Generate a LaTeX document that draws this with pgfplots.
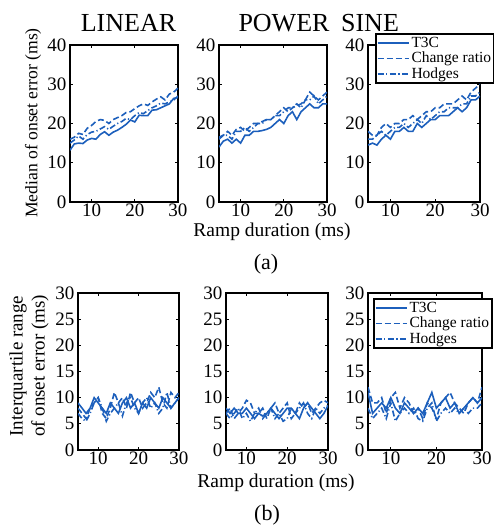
\documentclass[border=0pt]{standalone}
\usepackage{fontspec}
\setmainfont{Liberation Serif}
\usepackage{pgfplots}
\pgfplotsset{compat=1.18}
\usepackage{pgfplotstable}
\definecolor{lb}{RGB}{28,95,188}

\pgfplotstableread{
x a b c
5 13.2 16.0 15.0
6 14.8 16.5 15.8
7 15.0 17.5 16.8
8 14.9 17.2 16.0
9 15.8 18.8 17.2
10 16.2 19.5 17.8
11 16.0 20.5 18.0
12 17.2 21.0 18.6
13 17.9 20.8 19.2
14 17.0 20.0 18.5
15 17.8 21.0 19.3
16 18.3 21.5 20.0
17 19.0 22.0 20.5
18 19.8 22.8 21.3
19 20.9 23.0 21.0
20 20.4 23.8 22.0
21 22.1 24.5 22.8
22 22.0 25.0 22.5
23 22.0 24.6 23.3
24 23.4 25.5 24.0
25 23.5 26.2 24.5
26 24.0 26.8 25.2
27 24.5 26.0 25.0
28 25.0 27.5 25.5
29 26.4 28.0 26.0
30 26.6 29.0 27.0
}\linmed
\pgfplotstableread{
x a b c
5 14.0 16.5 16.0
6 15.5 17.0 17.0
7 16.0 18.0 17.0
8 15.0 17.0 16.0
9 16.0 18.5 18.0
10 15.0 19.0 18.0
11 17.0 18.0 19.0
12 17.0 19.0 18.0
13 18.0 20.0 19.0
14 18.0 20.0 20.0
15 18.2 20.5 20.0
16 18.5 21.0 21.0
17 19.0 21.0 21.0
18 20.0 22.0 22.0
19 21.0 23.0 22.0
20 20.0 24.0 23.0
21 22.0 23.0 24.0
22 23.0 24.0 24.0
23 21.0 24.5 25.0
24 23.0 25.0 24.0
25 24.0 26.0 26.0
26 25.0 28.0 26.0
27 24.0 27.0 27.0
28 24.0 26.0 25.0
29 25.0 27.0 26.0
30 25.0 28.0 27.0
}\powmed
\pgfplotstableread{
x a b c
5 14.5 18.0 16.0
6 15.0 17.0 16.0
7 14.5 17.0 17.0
8 16.0 19.0 18.0
9 17.0 20.0 17.0
10 16.0 19.0 18.0
11 18.0 20.0 19.0
12 18.0 20.0 19.0
13 19.0 21.0 20.0
14 18.0 21.0 19.0
15 18.0 22.0 20.0
16 20.0 21.0 21.0
17 19.0 22.0 20.0
18 20.0 23.0 22.0
19 21.0 23.0 21.0
20 21.0 24.0 22.0
21 22.0 24.0 23.0
22 22.0 25.0 23.0
23 22.0 25.0 24.0
24 23.0 25.0 24.0
25 24.0 26.0 24.0
26 23.0 27.0 25.0
27 24.0 26.0 25.0
28 26.0 28.0 27.0
29 26.0 29.0 27.0
30 27.0 30.0 28.0
}\sinmed
\pgfplotstableread{
x a b c
5 9 8 7
6 8 7 6
7 7 6 5.5
8 8 8 7
9 10 9 9
10 9 10 10
11 8 7 8
12 7 6 5.5
13 9 8 7
14 8 11 8
15 7 9 9
16 9 10 6.5
17 10 8 9
18 8 11 10
19 9 9 8
20 7 10 7
21 9 8 9
22 8 9 10
23 10 11 8
24 9 10 9
25 8 12 7
26 10 9 8
27 9 8 11
28 8 11 8
29 9 10 9
30 10 11 10
}\liniqr
\pgfplotstableread{
x a b c
5 8 7 7
6 7 8 6
7 8 6 7
8 7 7 8
9 7 8 6
10 8 9.5 7
11 7 9 5.5
12 6 7 7
13 7 7 8
14 6.5 8 6
15 7 6 7
16 8 8 8
17 7 9 6
18 6 7 7
19 7 8 5.5
20 8 9 6
21 8 6 8
22 7 7 7
23 6 9 8
24 8 8 9
25 9 9 7
26 8 7 6
27 7 8 8
28 6 9 7
29 7 9.5 8
30 8.5 9 8.5
}\powiqr
\pgfplotstableread{
x a b c
5 11 12 8
6 7 9 6
7 8 9 7
8 9 10 8
9 8 7 6
10 10 10 9
11 8 11 5.5
12 7 8 7
13 9 10 8
14 8 9 7
15 7 7 8
16 8 8 6
17 7 6 5.5
18 9 9 8
19 11 8 9
20 8 6 5.5
21 9 9 7
22 10 10 8
23 8 11 7
24 9 9 8
25 7 8 7
26 8 7 8
27 9 9 7
28 10 10 8
29 9 9 8
30 10 12 9
}\siniqr

\pgfplotsset{
 s1/.style={lb, line width=1.6pt, solid},
 s2/.style={lb, line width=1.6pt, dash pattern=on 6pt off 3pt},
 s3/.style={lb, line width=1.6pt, dash pattern=on 6pt off 2.5pt on 1.2pt off 2.5pt},
 panel/.style={
  scale only axis, height=157pt, xmin=5, xmax=30, xtick={10,20,30},
  axis line style={line width=2pt, black},
  tick style={black, line width=0.7pt}, major tick length=3pt, tick align=inside,
  /pgf/number format/assume math mode=true,
  ticklabel style={font=\fontsize{19}{22}\selectfont},
  xticklabel style={text depth=0pt, inner sep=1.5pt},
  legend image code/.code={\draw[##1] (0pt,0pt) -- (31pt,0pt);},
  legend cell align=left,
  legend style={draw=black, line width=1.8pt, font=\fontsize{15.5}{16}\selectfont,
    inner sep=1pt, row sep=-0.5pt, nodes={inner sep=2pt}},
 },
 top/.style={panel, ymin=0, ymax=40, ytick={0,10,20,30,40}},
 bot/.style={panel, ymin=0, ymax=30, ytick={0,5,10,15,20,25,30}},
}

\begin{document}
\begin{tikzpicture}
\useasboundingbox (0,0) rectangle (493pt,-527pt);

\begin{axis}[top, width=108pt, at={(70pt,-45pt)}, anchor=north west]
\addplot[s1] table[x=x,y=a]{\linmed};
\addplot[s2] table[x=x,y=b]{\linmed};
\addplot[s3] table[x=x,y=c]{\linmed};
\end{axis}
\begin{axis}[top, width=108pt, at={(219pt,-45pt)}, anchor=north west]
\addplot[s1] table[x=x,y=a]{\powmed};
\addplot[s2] table[x=x,y=b]{\powmed};
\addplot[s3] table[x=x,y=c]{\powmed};
\end{axis}
\begin{axis}[top, width=112pt, at={(368pt,-45pt)}, anchor=north west,
  legend style={at={(axis description cs:0.0625,1.076)}, anchor=north west}]
\addplot[s1] table[x=x,y=a]{\sinmed};
\addplot[s2] table[x=x,y=b]{\sinmed};
\addplot[s3] table[x=x,y=c]{\sinmed};
\legend{T3C, Change ratio, Hodges}
\end{axis}

\begin{axis}[bot, width=101pt, at={(78pt,-293pt)}, anchor=north west]
\addplot[s1] table[x=x,y=a]{\liniqr};
\addplot[s2] table[x=x,y=b]{\liniqr};
\addplot[s3] table[x=x,y=c]{\liniqr};
\end{axis}
\begin{axis}[bot, width=102pt, at={(226pt,-293pt)}, anchor=north west]
\addplot[s1] table[x=x,y=a]{\powiqr};
\addplot[s2] table[x=x,y=b]{\powiqr};
\addplot[s3] table[x=x,y=c]{\powiqr};
\end{axis}
\begin{axis}[bot, width=114pt, at={(368pt,-293pt)}, anchor=north west,
  legend style={at={(axis description cs:0.044,0.968)}, anchor=north west}]
\addplot[s1] table[x=x,y=a]{\siniqr};
\addplot[s2] table[x=x,y=b]{\siniqr};
\addplot[s3] table[x=x,y=c]{\siniqr};
\legend{T3C, Change ratio, Hodges}
\end{axis}

\node[anchor=base, font=\fontsize{26}{28}\selectfont] at (128.5pt,-32pt) {LINEAR};
\node[anchor=base, font=\fontsize{26}{28}\selectfont] at (284pt,-32pt) {POWER};
\node[anchor=base, font=\fontsize{26}{28}\selectfont] at (370pt,-32pt) {SINE};

\node[rotate=90, font=\fontsize{17.6}{20}\selectfont] at (33pt,-123pt) {Median of onset error (ms)};
\node[rotate=90, align=center, font=\fontsize{19}{22}\selectfont] at (29pt,-366pt) {Interquartile range\\of onset error (ms)};

\node[anchor=base, inner sep=0pt, font=\fontsize{19.5}{22}\selectfont] at (272pt,-236pt) {Ramp duration (ms)};
\node[anchor=base, inner sep=0pt, font=\fontsize{19.5}{22}\selectfont] at (276pt,-487pt) {Ramp duration (ms)};

\node[font=\fontsize{22}{24}\selectfont] at (266pt,-264pt) {(a)};
\node[font=\fontsize{22}{24}\selectfont] at (267pt,-515pt) {(b)};
\end{tikzpicture}
\end{document}
